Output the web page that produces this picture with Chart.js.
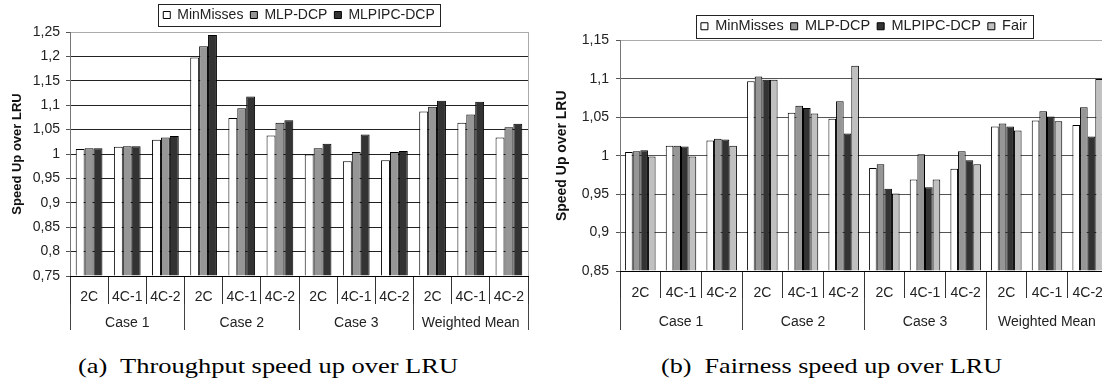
<!DOCTYPE html>
<html><head><meta charset="utf-8">
<script src="https://cdn.jsdelivr.net/npm/chart.js@4/dist/chart.umd.min.js"></script>
<style>
html,body{margin:0;padding:0;background:#fff;width:1102px;height:382px;overflow:hidden;position:relative}
#ca{position:absolute;left:0;top:0}
#cb{position:absolute;left:548px;top:0}
.cap{position:absolute;top:356px;font-family:"Liberation Serif","Times New Roman",serif;font-size:21px;line-height:21px;white-space:nowrap;transform-origin:0 0;color:#000}
</style></head><body>
<canvas id="ca" width="545" height="330"></canvas>
<canvas id="cb" width="560" height="330"></canvas>
<div class="cap" id="capa">(a)&nbsp; Throughput speed up over LRU</div>
<div class="cap" id="capb">(b)&nbsp; Fairness speed up over LRU</div>
<script>
// ---- data ----
const configs = ['2C','4C-1','4C-2','2C','4C-1','4C-2','2C','4C-1','4C-2','2C','4C-1','4C-2'];
const groups = ['Case 1','Case 2','Case 3','Weighted Mean'];
const yTitle = 'Speed Up over LRU';

const thrMinMisses = [1.010, 1.015, 1.029, 1.198, 1.074, 1.038, 0.999, 0.985, 0.987, 1.087, 1.064, 1.034];
const thrMLP       = [1.012, 1.016, 1.034, 1.221, 1.094, 1.064, 1.012, 1.004, 1.004, 1.097, 1.081, 1.055];
const thrMLPIPC    = [1.012, 1.016, 1.037, 1.244, 1.118, 1.069, 1.021, 1.040, 1.006, 1.109, 1.107, 1.062];
const thrTicks = ['0,75','0,8','0,85','0,9','0,95','1','1,05','1,1','1,15','1,2','1,25'];

const fairMinMisses = [1.005, 1.013, 1.020, 1.097, 1.056, 1.048, 0.984, 0.969, 0.983, 1.038, 1.046, 1.040];
const fairMLP       = [1.006, 1.013, 1.022, 1.103, 1.065, 1.071, 0.989, 1.002, 1.006, 1.042, 1.058, 1.063];
const fairMLPIPC    = [1.007, 1.012, 1.021, 1.099, 1.062, 1.029, 0.957, 0.959, 0.994, 1.038, 1.051, 1.025];
const fairFair      = [0.999, 0.999, 1.013, 1.099, 1.055, 1.117, 0.951, 0.969, 0.989, 1.033, 1.045, 1.100];
const fairTicks = ['0,85','0,9','0,95','1','1,05','1,1','1,15'];

const seriesNames = ['MinMisses','MLP-DCP','MLPIPC-DCP','Fair'];
const seriesColors = ['#ffffff','#969696','#333333','#c0c0c0'];

// ---- helpers ----
const FONT = '"Liberation Sans", Arial, sans-serif';
const legendFrame = {
  id: 'legendFrame',
  afterDraw(chart, args, o) {
    const lg = chart.legend; if (!lg || !lg.legendHitBoxes || !lg.legendHitBoxes.length) return;
    const hb = lg.legendHitBoxes;
    const l = Math.min(...hb.map(h => h.left)) - o.padL;
    const r = Math.max(...hb.map(h => h.left + h.width)) + o.padR;
    const cy = hb[0].top + hb[0].height / 2;
    const ctx = chart.ctx;
    ctx.save(); ctx.strokeStyle = '#222'; ctx.lineWidth = 1;
    ctx.strokeRect(Math.round(l) + 0.5, Math.round(cy - o.half) + 0.5, Math.round(r - l), Math.round(2 * o.half));
    ctx.restore();
  }
};
const rightBorder = {
  id: 'rightBorder',
  beforeDatasetsDraw(chart) {
    const a = chart.chartArea, ctx = chart.ctx;
    ctx.save(); ctx.strokeStyle = '#aaa'; ctx.lineWidth = 1;
    ctx.beginPath(); ctx.moveTo(Math.round(a.right) + 0.5, a.top); ctx.lineTo(Math.round(a.right) + 0.5, a.bottom); ctx.stroke();
    ctx.restore();
  }
};

function makeChart(id, seriesList, ticksArr, yMin, yMax, p) {
  const datasets = seriesList.map((d, i) => ({
    label: seriesNames[i], data: d, backgroundColor: seriesColors[i],
    borderColor: '#000', borderWidth: 1, base: yMin,
    barPercentage: 1, categoryPercentage: p.catPct
  }));
  return new Chart(document.getElementById(id), {
    type: 'bar',
    data: { labels: configs, datasets },
    plugins: [legendFrame, rightBorder],
    options: {
      responsive: false, animation: false,
      layout: { padding: { top: p.padTop, right: p.padRight, left: 0, bottom: 0 } },
      plugins: {
        tooltip: { enabled: false },
        legend: {
          position: 'top', fullSize: false, maxHeight: p.legendH,
          labels: { font: { family: FONT, size: p.legendFont }, color: '#222', boxWidth: 7, boxHeight: 7, padding: 7 }
        },
        legendFrame: { padL: 5, padR: 6, half: p.frameHalf }
      },
      scales: {
        y: {
          min: yMin, max: yMax,
          ticks: { stepSize: 0.05, callback: (v, i) => ticksArr[i], font: { family: FONT, size: 14 }, color: '#222', padding: p.tickPad },
          grid: { color: c => (c.index === ticksArr.length - 1 ? '#aaa' : p.gridColor), tickLength: 4, tickColor: '#555' },
          border: { color: '#777' },
          title: { display: true, text: yTitle, font: { family: FONT, size: p.titleFont, weight: 'bold' }, color: '#111', padding: { top: p.titlePad, bottom: 0 } },
          afterFit: s => { s.width = p.yWidth; }
        },
        x: {
          offset: true,
          grid: { offset: true, drawOnChartArea: false, tickLength: p.xTick, tickColor: '#333' },
          border: { color: '#000' },
          ticks: { padding: p.xPad, font: { family: FONT, size: 14 }, color: '#222', autoSkip: false, maxRotation: 0 },
          afterFit: s => { s.height = p.xTick; }
        },
        x2: {
          type: 'category', labels: groups, position: 'bottom', weight: 1, offset: true,
          grid: { offset: true, drawOnChartArea: false, tickLength: p.x2Tick, tickColor: '#444' },
          border: { display: false },
          ticks: { padding: p.x2Pad, font: { family: FONT, size: 14 }, color: '#222', autoSkip: false, maxRotation: 0 },
          afterFit: s => { s.height = p.x2Tick; }
        }
      }
    }
  });
}

makeChart('ca', [thrMinMisses, thrMLP, thrMLPIPC], thrTicks, 0.75, 1.25, {
  catPct: 0.7, padTop: 1, padRight: 17, legendH: 31, legendFont: 14, frameHalf: 11,
  tickPad: 6, gridColor: '#222', titleFont: 13, titlePad: 10, yWidth: 70,
  xTick: 28, xPad: -15.5, x2Tick: 26, x2Pad: -15.5
});
makeChart('cb', [fairMinMisses, fairMLP, fairMLPIPC, fairFair], fairTicks, 0.85, 1.15, {
  catPct: 0.75, padTop: 12, padRight: 0, legendH: 28.5, legendFont: 14.5, frameHalf: 11.5,
  tickPad: 7, gridColor: '#555', titleFont: 14, titlePad: 6, yWidth: 72,
  xTick: 27, xPad: -13.5, x2Tick: 32, x2Pad: -16.5
});

// captions
function fitCap(id, left, width) {
  const el = document.getElementById(id);
  el.style.left = left + 'px';
  const w = el.getBoundingClientRect().width;
  el.style.transform = 'scaleX(' + (width / w) + ')';
}
fitCap('capa', 78, 380);
fitCap('capb', 661, 341);
</script>
</body></html>
